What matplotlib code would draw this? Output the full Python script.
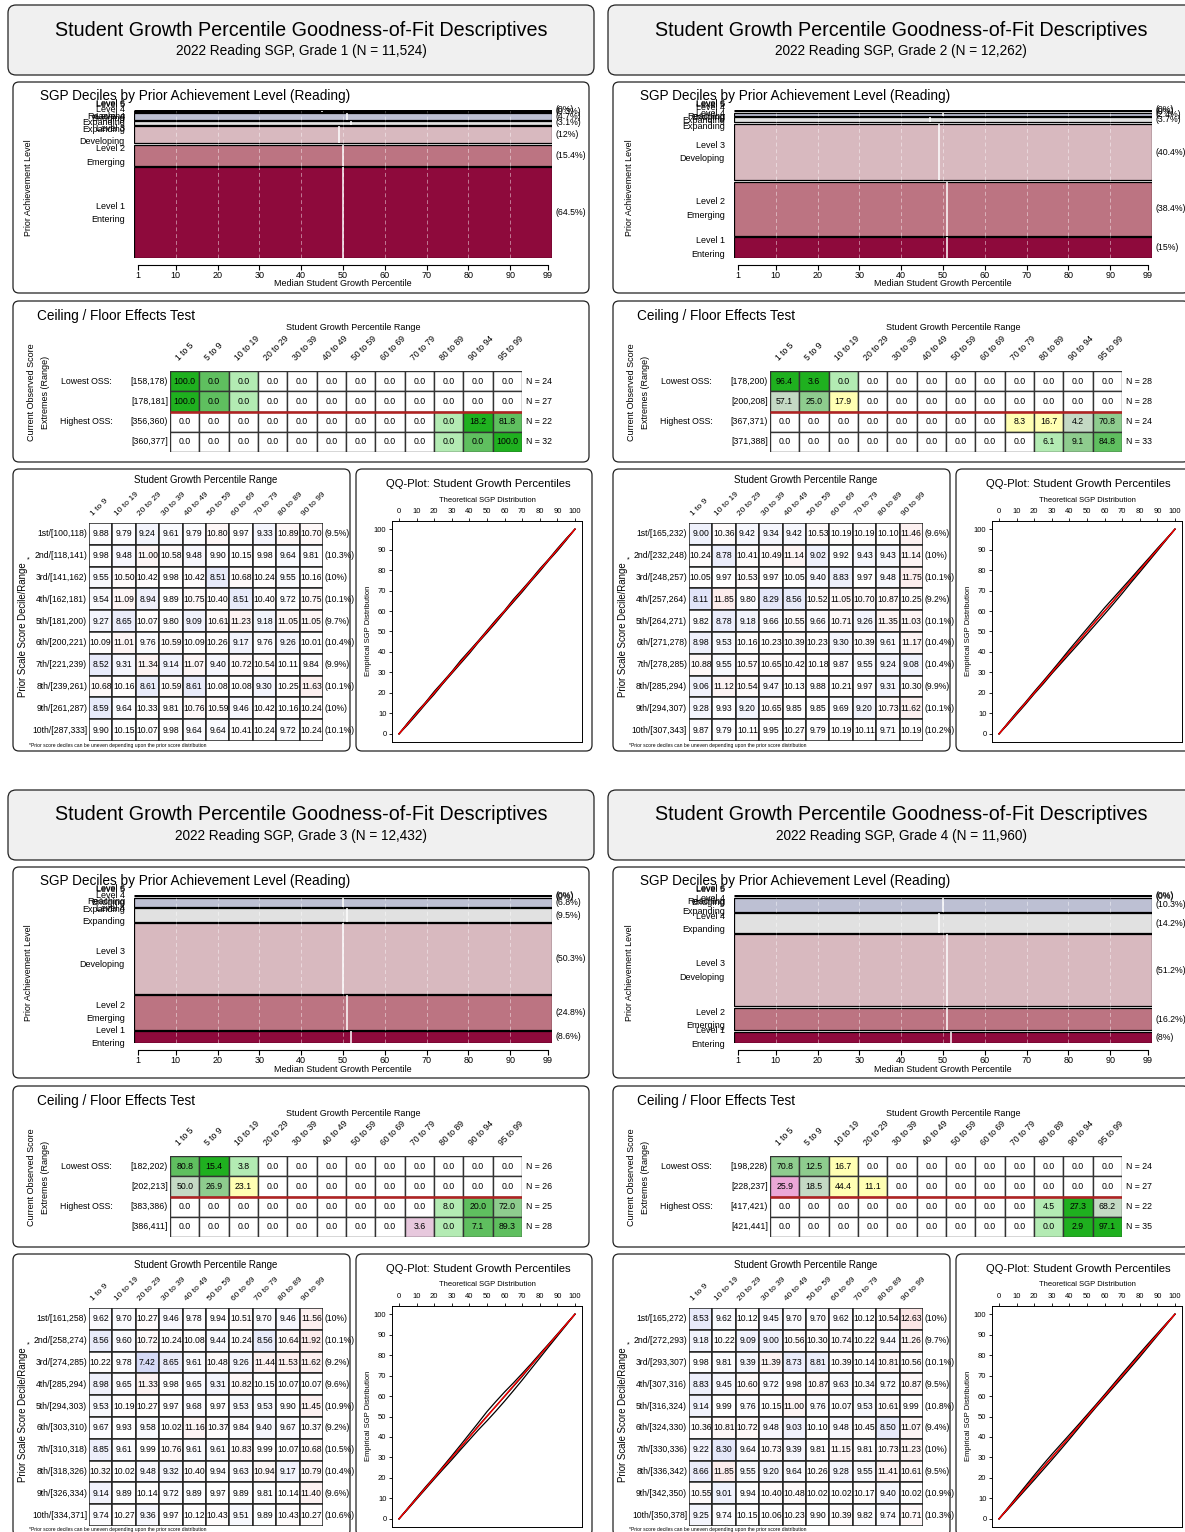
import matplotlib
matplotlib.use("Agg")
import matplotlib.pyplot as plt
from matplotlib.patches import FancyBboxPatch, Rectangle
from matplotlib.colors import LinearSegmentedColormap, Normalize

plt.rcParams['font.family'] = ['Liberation Sans', 'DejaVu Sans']

W, H = 1185, 1532

# ---------------- data ----------------
GRADES = [1, 2, 3, 4]
N_TOTAL = ["11,524", "12,262", "12,432", "11,960"]

LEVELS = ["Level 1", "Level 2", "Level 3", "Level 4", "Level 4", "Level 5", "Level 6"]
LEVEL_NAMES = ["Entering", "Emerging", "Developing", "Expanding", "Expanding", "Bridging", "Reaching"]
LEVEL_COLORS = ["#8E0A3C", "#BC7482", "#D8B9BF", "#E1E1E1", "#BDC0D3", "#9C9FBA", "#6E7291"]

# percent of students in each prior level (bottom to top) and median SGP
PCT_G1 = [64.5, 15.4, 12, 3.1, 4.7, 0.3, 0]
PCT_G2 = [15, 38.4, 40.4, 3.7, 2.4, 0, 0]
PCT_G3 = [8.6, 24.8, 50.3, 9.5, 6.8, 0, 0]
PCT_G4 = [8, 16.2, 51.2, 14.2, 10.3, 0, 0]
MED_G1 = [50, 50, 49, 52, 51, 45, 50]
MED_G2 = [51, 51, 49, 47, 50, 50, 50]
MED_G3 = [52, 51, 50, 51, 50, 50, 50]
MED_G4 = [52, 51, 51, 49, 50, 50, 36]
MOSAIC_TICKS = [1, 10, 20, 30, 40, 50, 60, 70, 80, 90, 99]

# ceiling / floor tables
CF_COLS = ["1 to 5", "5 to 9", "10 to 19", "20 to 29", "30 to 39", "40 to 49",
           "50 to 59", "60 to 69", "70 to 79", "80 to 89", "90 to 94", "95 to 99"]
CF_BREAKS_G1 = [158, 178, 181, 356, 360, 377]
CF_BREAKS_G2 = [178, 200, 208, 367, 371, 388]
CF_BREAKS_G3 = [182, 202, 213, 383, 386, 411]
CF_BREAKS_G4 = [198, 228, 237, 417, 421, 441]
CF_N_G1 = [24, 27, 22, 32]
CF_N_G2 = [28, 28, 24, 33]
CF_N_G3 = [26, 26, 25, 28]
CF_N_G4 = [24, 27, 22, 35]
CF_VALUES_G1 = [[100.0, 0, 0, 0, 0, 0, 0, 0, 0, 0, 0, 0],
                [100.0, 0, 0, 0, 0, 0, 0, 0, 0, 0, 0, 0],
                [0, 0, 0, 0, 0, 0, 0, 0, 0, 0, 18.2, 81.8],
                [0, 0, 0, 0, 0, 0, 0, 0, 0, 0, 0, 100.0]]
CF_VALUES_G2 = [[96.4, 3.6, 0, 0, 0, 0, 0, 0, 0, 0, 0, 0],
                [57.1, 25.0, 17.9, 0, 0, 0, 0, 0, 0, 0, 0, 0],
                [0, 0, 0, 0, 0, 0, 0, 0, 8.3, 16.7, 4.2, 70.8],
                [0, 0, 0, 0, 0, 0, 0, 0, 0, 6.1, 9.1, 84.8]]
CF_VALUES_G3 = [[80.8, 15.4, 3.8, 0, 0, 0, 0, 0, 0, 0, 0, 0],
                [50.0, 26.9, 23.1, 0, 0, 0, 0, 0, 0, 0, 0, 0],
                [0, 0, 0, 0, 0, 0, 0, 0, 0, 8.0, 20.0, 72.0],
                [0, 0, 0, 0, 0, 0, 0, 0, 3.6, 0, 7.1, 89.3]]
CF_VALUES_G4 = [[70.8, 12.5, 16.7, 0, 0, 0, 0, 0, 0, 0, 0, 0],
                [25.9, 18.5, 44.4, 11.1, 0, 0, 0, 0, 0, 0, 0, 0],
                [0, 0, 0, 0, 0, 0, 0, 0, 0, 4.5, 27.3, 68.2],
                [0, 0, 0, 0, 0, 0, 0, 0, 0, 0, 2.9, 97.1]]
# shading class of each cell as printed in the report
CF_CODES_G1 = ["ABDWWWWWWWWW", "ABDWWWWWWWWW", "WWWWWWWWWDAB", "WWWWWWWWWDBA"]
CF_CODES_G2 = ["AADWWWWWWWWW", "ECYWWWWWWWWW", "WWWWWWWWYYEC", "WWWWWWWWWDCB"]
CF_CODES_G3 = ["BADWWWWWWWWW", "ECYWWWWWWWWW", "WWWWWWWWWDBC", "WWWWWWWWQDBB"]
CF_CODES_G4 = ["CCYWWWWWWWWW", "PEYYWWWWWWWW", "WWWWWWWWWDAE", "WWWWWWWWWDAA"]
CF_PALETTE = {"A": "#1FB01F", "B": "#5FBF5F", "C": "#8ECC8E", "D": "#B3EBB3",
              "E": "#C4D9C4", "Y": "#FFFFB3", "P": "#EBA7D7", "Q": "#E7C8DD", "W": "white"}

# prior decile tables
DEC_COLS = ["1 to 9", "10 to 19", "20 to 29", "30 to 39", "40 to 49",
            "50 to 59", "60 to 69", "70 to 79", "80 to 89", "90 to 99"]
ORDINALS = ["1st", "2nd", "3rd", "4th", "5th", "6th", "7th", "8th", "9th", "10th"]
DEC_BREAKS_G1 = [100, 118, 141, 162, 181, 200, 221, 239, 261, 287, 333]
DEC_BREAKS_G2 = [165, 232, 248, 257, 264, 271, 278, 285, 294, 307, 343]
DEC_BREAKS_G3 = [161, 258, 274, 285, 294, 303, 310, 318, 326, 334, 371]
DEC_BREAKS_G4 = [165, 272, 293, 307, 316, 324, 330, 336, 342, 350, 378]
DEC_PCT_G1 = [9.5, 10.3, 10, 10.1, 9.7, 10.4, 9.9, 10.1, 10, 10.1]
DEC_PCT_G2 = [9.6, 10, 10.1, 9.2, 10.1, 10.4, 10.4, 9.9, 10.1, 10.2]
DEC_PCT_G3 = [10, 10.1, 9.2, 9.6, 10.9, 9.2, 10.5, 10.4, 9.6, 10.6]
DEC_PCT_G4 = [10, 9.7, 10.1, 9.5, 10.8, 9.4, 10, 9.5, 10.9, 10.3]
DEC_VALUES_G1 = [
    [9.88, 9.79, 9.24, 9.61, 9.79, 10.80, 9.97, 9.33, 10.89, 10.70],
    [9.98, 9.48, 11.00, 10.58, 9.48, 9.90, 10.15, 9.98, 9.64, 9.81],
    [9.55, 10.50, 10.42, 9.98, 10.42, 8.51, 10.68, 10.24, 9.55, 10.16],
    [9.54, 11.09, 8.94, 9.89, 10.75, 10.40, 8.51, 10.40, 9.72, 10.75],
    [9.27, 8.65, 10.07, 9.80, 9.09, 10.61, 11.23, 9.18, 11.05, 11.05],
    [10.09, 11.01, 9.76, 10.59, 10.09, 10.26, 9.17, 9.76, 9.26, 10.01],
    [8.52, 9.31, 11.34, 9.14, 11.07, 9.40, 10.72, 10.54, 10.11, 9.84],
    [10.68, 10.16, 8.61, 10.59, 8.61, 10.08, 10.08, 9.30, 10.25, 11.63],
    [8.59, 9.64, 10.33, 9.81, 10.76, 10.59, 9.46, 10.42, 10.16, 10.24],
    [9.90, 10.15, 10.07, 9.98, 9.64, 9.64, 10.41, 10.24, 9.72, 10.24]]
DEC_VALUES_G2 = [
    [9.00, 10.36, 9.42, 9.34, 9.42, 10.53, 10.19, 10.19, 10.10, 11.46],
    [10.24, 8.78, 10.41, 10.49, 11.14, 9.02, 9.92, 9.43, 9.43, 11.14],
    [10.05, 9.97, 10.53, 9.97, 10.05, 9.40, 8.83, 9.97, 9.48, 11.75],
    [8.11, 11.85, 9.80, 8.29, 8.56, 10.52, 11.05, 10.70, 10.87, 10.25],
    [9.82, 8.78, 9.18, 9.66, 10.55, 9.66, 10.71, 9.26, 11.35, 11.03],
    [8.98, 9.53, 10.16, 10.23, 10.39, 10.23, 9.30, 10.39, 9.61, 11.17],
    [10.88, 9.55, 10.57, 10.65, 10.42, 10.18, 9.87, 9.55, 9.24, 9.08],
    [9.06, 11.12, 10.54, 9.47, 10.13, 9.88, 10.21, 9.97, 9.31, 10.30],
    [9.28, 9.93, 9.20, 10.65, 9.85, 9.85, 9.69, 9.20, 10.73, 11.62],
    [9.87, 9.79, 10.11, 9.95, 10.27, 9.79, 10.19, 10.11, 9.71, 10.19]]
DEC_VALUES_G3 = [
    [9.62, 9.70, 10.27, 9.46, 9.78, 9.94, 10.51, 9.70, 9.46, 11.56],
    [8.56, 9.60, 10.72, 10.24, 10.08, 9.44, 10.24, 8.56, 10.64, 11.92],
    [10.22, 9.78, 7.42, 8.65, 9.61, 10.48, 9.26, 11.44, 11.53, 11.62],
    [8.98, 9.65, 11.33, 9.98, 9.65, 9.31, 10.82, 10.15, 10.07, 10.07],
    [9.53, 10.19, 10.27, 9.97, 9.68, 9.97, 9.53, 9.53, 9.90, 11.45],
    [9.67, 9.93, 9.58, 10.02, 11.16, 10.37, 9.84, 9.40, 9.67, 10.37],
    [8.85, 9.61, 9.99, 10.76, 9.61, 9.61, 10.83, 9.99, 10.07, 10.68],
    [10.32, 10.02, 9.48, 9.32, 10.40, 9.94, 9.63, 10.94, 9.17, 10.79],
    [9.14, 9.89, 10.14, 9.72, 9.89, 9.97, 9.89, 9.81, 10.14, 11.40],
    [9.74, 10.27, 9.36, 9.97, 10.12, 10.43, 9.51, 9.89, 10.43, 10.27]]
DEC_VALUES_G4 = [
    [8.53, 9.62, 10.12, 9.45, 9.70, 9.70, 9.62, 10.12, 10.54, 12.63],
    [9.18, 10.22, 9.09, 9.00, 10.56, 10.30, 10.74, 10.22, 9.44, 11.26],
    [9.98, 9.81, 9.39, 11.39, 8.73, 8.81, 10.39, 10.14, 10.81, 10.56],
    [8.83, 9.45, 10.60, 9.72, 9.98, 10.87, 9.63, 10.34, 9.72, 10.87],
    [9.14, 9.99, 9.76, 10.15, 11.00, 9.76, 10.07, 9.53, 10.61, 9.99],
    [10.36, 10.81, 10.72, 9.48, 9.03, 10.10, 9.48, 10.45, 8.50, 11.07],
    [9.22, 8.30, 9.64, 10.73, 9.39, 9.81, 11.15, 9.81, 10.73, 11.23],
    [8.66, 11.85, 9.55, 9.20, 9.64, 10.26, 9.28, 9.55, 11.41, 10.61],
    [10.55, 9.01, 9.94, 10.40, 10.48, 10.02, 10.02, 10.17, 9.40, 10.02],
    [9.25, 9.74, 10.15, 10.06, 10.23, 9.90, 10.39, 9.82, 9.74, 10.71]]

# QQ plot: empirical quantiles read at theoretical percentiles
TQ = [0, 5, 10, 15, 20, 25, 30, 35, 40, 45, 50, 55, 60, 65, 70, 75, 80, 85, 90, 95, 100]
QQ_TICKS = [0, 10, 20, 30, 40, 50, 60, 70, 80, 90, 100]
QQ_G1 = [[0.0, 5.4, 10.6, 15.3, 20.7, 25.5, 30.4, 35.8, 40.6, 45.4, 50.5, 55.6, 60.3, 65.7, 70.5, 75.4, 80.6, 85.3, 90.5, 95.4, 100.0],
         [0.0, 4.5, 9.4, 14.5, 19.3, 24.6, 29.5, 34.4, 39.3, 44.6, 49.4, 54.3, 59.5, 64.4, 69.3, 74.5, 79.4, 84.6, 89.4, 94.6, 100.0],
         [0.0, 5.1, 9.9, 15.1, 20.1, 24.8, 30.2, 35.0, 39.9, 45.1, 49.9, 55.1, 59.9, 64.9, 70.1, 75.0, 79.9, 85.1, 89.9, 95.0, 100.0]]
QQ_G2 = [[0.0, 5.3, 10.5, 15.4, 20.6, 25.6, 30.7, 35.9, 41.2, 46.3, 51.4, 56.5, 61.6, 66.4, 71.2, 76.0, 80.9, 85.7, 90.6, 95.3, 100.0],
         [0.0, 4.6, 9.5, 14.4, 19.5, 24.3, 29.4, 34.2, 39.0, 43.8, 48.7, 53.6, 58.5, 63.5, 68.6, 73.9, 79.0, 84.2, 89.4, 94.7, 100.0],
         [0.0, 5.0, 10.0, 14.9, 20.1, 25.0, 29.9, 35.1, 40.2, 45.0, 50.1, 55.2, 60.0, 64.9, 70.1, 74.9, 80.0, 84.9, 90.1, 95.0, 100.0]]
QQ_G3 = [[0.0, 5.2, 10.4, 15.5, 20.4, 25.6, 30.8, 36.1, 41.5, 46.9, 52.4, 57.3, 62.0, 66.4, 71.0, 75.7, 80.6, 85.4, 90.3, 95.2, 100.0],
         [0.0, 4.7, 9.6, 14.5, 19.4, 24.2, 28.9, 33.8, 38.6, 43.4, 47.9, 52.6, 57.5, 62.6, 67.8, 73.2, 78.6, 84.0, 89.3, 94.6, 100.0],
         [0.0, 5.0, 10.1, 15.0, 19.9, 25.1, 30.0, 34.8, 40.1, 45.3, 50.2, 55.0, 59.8, 64.7, 69.6, 74.8, 79.9, 85.0, 89.9, 95.0, 100.0]]
QQ_G4 = [[0.0, 5.3, 10.7, 16.0, 21.3, 26.5, 31.5, 36.3, 41.1, 45.9, 50.8, 55.7, 60.7, 65.8, 70.9, 75.9, 80.9, 85.8, 90.6, 95.4, 100.0],
         [0.0, 4.6, 9.4, 14.2, 19.0, 23.9, 28.8, 33.8, 38.9, 44.1, 49.3, 54.4, 59.3, 64.2, 69.1, 74.1, 79.1, 84.3, 89.5, 94.7, 100.0],
         [0.0, 5.0, 10.0, 15.1, 20.2, 25.2, 30.1, 35.0, 40.0, 45.0, 50.0, 55.0, 60.1, 65.0, 70.0, 75.0, 80.0, 85.0, 90.0, 95.0, 100.0]]

PCT = [PCT_G1, PCT_G2, PCT_G3, PCT_G4]
MED = [MED_G1, MED_G2, MED_G3, MED_G4]
CF_BREAKS = [CF_BREAKS_G1, CF_BREAKS_G2, CF_BREAKS_G3, CF_BREAKS_G4]
CF_N = [CF_N_G1, CF_N_G2, CF_N_G3, CF_N_G4]
CF_VALUES = [CF_VALUES_G1, CF_VALUES_G2, CF_VALUES_G3, CF_VALUES_G4]
CF_CODES = [CF_CODES_G1, CF_CODES_G2, CF_CODES_G3, CF_CODES_G4]
DEC_BREAKS = [DEC_BREAKS_G1, DEC_BREAKS_G2, DEC_BREAKS_G3, DEC_BREAKS_G4]
DEC_PCT = [DEC_PCT_G1, DEC_PCT_G2, DEC_PCT_G3, DEC_PCT_G4]
DEC_VALUES = [DEC_VALUES_G1, DEC_VALUES_G2, DEC_VALUES_G3, DEC_VALUES_G4]
QQ = [QQ_G1, QQ_G2, QQ_G3, QQ_G4]

# ---------------- drawing ----------------
fig = plt.figure(figsize=(W / 100, H / 100), dpi=100)
canvas = fig.add_axes([0, 0, 1, 1])
canvas.set_xlim(0, W)
canvas.set_ylim(H, 0)
canvas.axis('off')

dec_cmap = LinearSegmentedColormap.from_list("dec", [(0, "#B0B8EE"), (0.5, "white"), (1, "#F7CFCF")])
dec_norm = Normalize(5, 15)


def px_axes(ox, oy, x0, y0, x1, y1):
    return fig.add_axes([(ox + x0) / W, 1 - (oy + y1) / H, (x1 - x0) / W, (y1 - y0) / H])


def rbox(ox, oy, x0, y0, x1, y1, fc="white", r=6):
    canvas.add_patch(FancyBboxPatch((ox + x0, oy + y0), x1 - x0, y1 - y0,
                                    boxstyle=f"round,pad=0,rounding_size={r}",
                                    facecolor=fc, edgecolor="#222222", linewidth=0.9))


def ctext(ox, oy, x, y, s, **kw):
    canvas.text(ox + x, oy + y, s, **kw)


def draw_mosaic(ox, oy, pct, med):
    ax = px_axes(ox, oy, 134, 110, 552, 258)
    gap = 0.9
    y = 0.0
    spans = []
    for k, p in enumerate(pct):
        ax.barh(y, 100, height=p, left=0, align='edge', color=LEVEL_COLORS[k],
                edgecolor='black', linewidth=0.9, zorder=1)
        spans.append((y, y + p))
        y += p + gap
    top = y - gap
    ax.set_xlim(0, 100)
    ax.set_ylim(0, top)
    for k, (y0, y1) in enumerate(spans):
        ax.vlines(MOSAIC_TICKS[1:-1], y0, y1, colors='white', alpha=0.45,
                  linestyles=(0, (4, 3)), linewidth=0.7, zorder=2)
        ax.vlines(med[k], y0, y1, colors='white', linewidth=1.1, zorder=3)
        yc = (y0 + y1) / 2
        tr = ax.get_yaxis_transform()
        ax.annotate(LEVELS[k], xy=(0, yc), xycoords=tr, xytext=(-9, 6.7),
                    textcoords='offset pixels', ha='right', va='center', fontsize=6.5)
        ax.annotate(LEVEL_NAMES[k], xy=(0, yc), xycoords=tr, xytext=(-9, -6.7),
                    textcoords='offset pixels', ha='right', va='center', fontsize=6.5)
        ax.annotate(f"({pct[k]:g}%)", xy=(1, yc), xycoords=tr, xytext=(3, 0),
                    textcoords='offset pixels', ha='left', va='center', fontsize=6.3)
    for s in ['left', 'top', 'right']:
        ax.spines[s].set_visible(False)
    ax.spines['bottom'].set_position(('outward', 5))
    ax.spines['bottom'].set_bounds(1, 99)
    ax.spines['bottom'].set_linewidth(0.8)
    ax.set_yticks([])
    ax.set_xticks(MOSAIC_TICKS)
    ax.tick_params(axis='x', labelsize=6.5, length=3.5, width=0.8, pad=1)
    ax.set_xlabel("Median Student Growth Percentile", fontsize=6.5, labelpad=-0.5)
    ax.patch.set_visible(False)


def draw_ceiling(ox, oy, breaks, vals, codes, ns):
    ax = px_axes(ox, oy, 170, 371, 522, 452)
    ax.set_xlim(0, 12)
    ax.set_ylim(4, 0)
    ax.axis('off')
    labels = [f"[{breaks[0]},{breaks[1]})", f"[{breaks[1]},{breaks[2]}]",
              f"[{breaks[3]},{breaks[4]})", f"[{breaks[4]},{breaks[5]}]"]
    for i in range(4):
        for j in range(12):
            ax.add_patch(Rectangle((j, i), 1, 1, facecolor=CF_PALETTE[codes[i][j]],
                                   edgecolor='#333333', linewidth=1.0))
            ax.text(j + 0.5, i + 0.5, f"{vals[i][j]:.1f}", ha='center', va='center', fontsize=6.3)
        ax.text(-0.07, i + 0.5, labels[i], ha='right', va='center', fontsize=6.3)
        ax.text(12.12, i + 0.5, f"N = {ns[i]}", ha='left', va='center', fontsize=6.3)
    ax.text(-2.86, 0.5, "Lowest OSS:", ha='center', va='center', fontsize=6.3)
    ax.text(-2.86, 2.5, "Highest OSS:", ha='center', va='center', fontsize=6.3)
    ax.hlines(2, 0, 12, colors='#B22222', linewidth=1.8, zorder=5)
    for j, c in enumerate(CF_COLS):
        ax.text(j + 0.35, -0.4, c, rotation=45, rotation_mode='anchor',
                ha='left', va='bottom', fontsize=6.2)


def draw_deciles(ox, oy, breaks, vals, pcts):
    ax = px_axes(ox, oy, 89, 523, 323, 741)
    ax.set_xlim(0, 10)
    ax.set_ylim(10, 0)
    ax.axis('off')
    for i in range(10):
        close = "]" if i == 9 else ")"
        label = f"{ORDINALS[i]}/[{breaks[i]},{breaks[i + 1]}{close}"
        for j in range(10):
            v = vals[i][j]
            ax.add_patch(Rectangle((j, i), 1, 1, facecolor=dec_cmap(dec_norm(v)),
                                   edgecolor='#222222', linewidth=1.1))
            ax.text(j + 0.5, i + 0.5, f"{v:.2f}", ha='center', va='center', fontsize=6.2)
        ax.text(-0.08, i + 0.5, label, ha='right', va='center', fontsize=6.2)
        ax.text(10.06, i + 0.5, f"({pcts[i]:g}%)", ha='left', va='center', fontsize=6.2)
    for j, c in enumerate(DEC_COLS):
        ax.text(j + 0.25, -0.25, c, rotation=45, rotation_mode='anchor',
                ha='left', va='bottom', fontsize=6.0)


def draw_qq(ox, oy, series):
    ax = px_axes(ox, oy, 392, 521, 582, 742)
    for q in series:
        ax.plot(TQ, q, color='black', linewidth=0.9)
    ax.plot(TQ, TQ, color='red', linewidth=1.0)
    ax.set_xlim(-4, 104)
    ax.set_ylim(-4, 104)
    ax.xaxis.tick_top()
    ax.set_xticks(QQ_TICKS)
    ax.set_yticks(QQ_TICKS)
    ax.tick_params(labelsize=5.5, length=2.5, width=0.6, pad=1.5)
    for s in ax.spines.values():
        s.set_linewidth(0.7)


ORIGINS = [(0, 0), (600, 0), (0, 785), (600, 785)]

for g, (ox, oy) in enumerate(ORIGINS):
    # header
    rbox(ox, oy, 8, 5, 594, 75, fc="#F0F0F0", r=8)
    ctext(ox, oy, 301, 30, "Student Growth Percentile Goodness-of-Fit Descriptives",
          ha='center', va='center', fontsize=14.2)
    ctext(ox, oy, 301, 51, f"2022 Reading SGP, Grade {GRADES[g]} (N = {N_TOTAL[g]})",
          ha='center', va='center', fontsize=9.8)

    # mosaic
    rbox(ox, oy, 13, 82, 589, 293)
    ctext(ox, oy, 40, 96, "SGP Deciles by Prior Achievement Level (Reading)",
          ha='left', va='center', fontsize=9.8)
    ctext(ox, oy, 29, 188, "Prior Achievement Level", rotation=90,
          ha='center', va='center', fontsize=6.4)
    draw_mosaic(ox, oy, PCT[g], MED[g])

    # ceiling / floor
    rbox(ox, oy, 13, 301, 589, 462)
    ctext(ox, oy, 37, 316, "Ceiling / Floor Effects Test", ha='left', va='center', fontsize=9.8)
    ctext(ox, oy, 353, 328, "Student Growth Percentile Range", ha='center', va='center', fontsize=6.5)
    ctext(ox, oy, 31, 392, "Current Observed Score", rotation=90, ha='center', va='center', fontsize=6.5)
    ctext(ox, oy, 46, 392, "Extremes (Range)", rotation=90, ha='center', va='center', fontsize=6.5)
    draw_ceiling(ox, oy, CF_BREAKS[g], CF_VALUES[g], CF_CODES[g], CF_N[g])

    # decile table
    rbox(ox, oy, 13, 469, 350, 751)
    ctext(ox, oy, 206, 480, "Student Growth Percentile Range", ha='center', va='center', fontsize=6.9)
    ctext(ox, oy, 23, 630, "Prior Scale Score Decile/Range", rotation=90,
          ha='center', va='center', fontsize=6.9)
    ctext(ox, oy, 28, 560, "*", ha='center', va='center', fontsize=5)
    ctext(ox, oy, 29, 745, "*Prior score deciles can be uneven depending upon the prior score distribution",
          ha='left', va='center', fontsize=3.6)
    draw_deciles(ox, oy, DEC_BREAKS[g], DEC_VALUES[g], DEC_PCT[g])

    # QQ plot
    rbox(ox, oy, 356, 469, 592, 751)
    ctext(ox, oy, 478, 484, "QQ-Plot: Student Growth Percentiles", ha='center', va='center', fontsize=8.1)
    ctext(ox, oy, 487, 500, "Theoretical SGP Distribution", ha='center', va='center', fontsize=5.5)
    ctext(ox, oy, 368, 631, "Empirical SGP Distribution", rotation=90, ha='center', va='center', fontsize=5.5)
    draw_qq(ox, oy, QQ[g])

fig.savefig("out.png", dpi=100)
